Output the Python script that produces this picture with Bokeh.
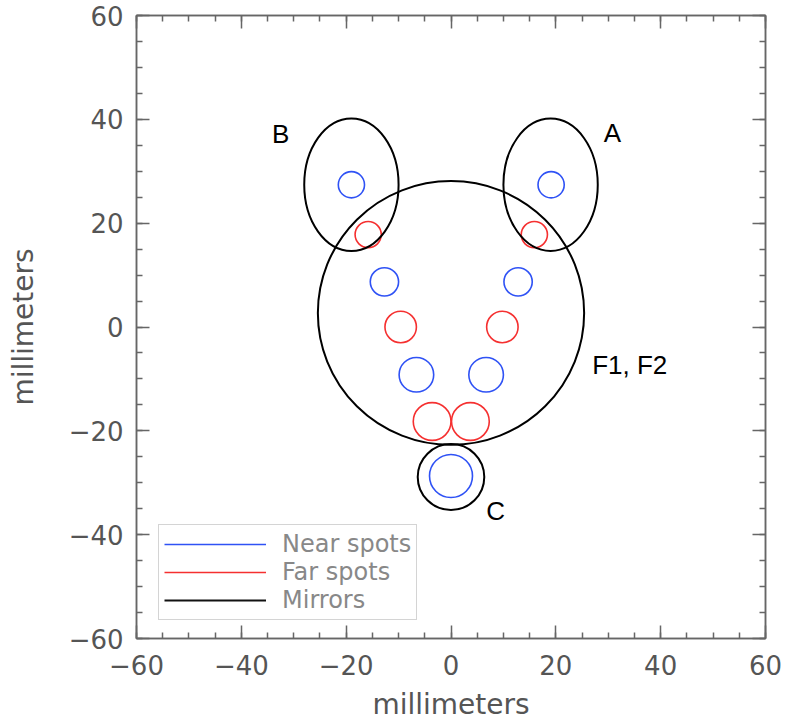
from bokeh.plotting import figure
from bokeh.models import ColumnDataSource, Range1d, LinearAxis, Legend, LegendItem, FixedTicker
from bokeh.core.properties import value
from bokeh.embed import file_html
from bokeh.resources import INLINE

# ---- data (millimeters) ----
near_x = [-19.0, 19.1, -12.7, 12.8, -6.6, 6.7, 0.0]
near_y = [27.4, 27.4, 8.7, 8.7, -9.2, -9.2, -28.7]
near_r = [2.5, 2.5, 2.7, 2.7, 3.3, 3.3, 4.1]

far_x = [-15.8, 15.9, -9.6, 9.8, -3.6, 3.7]
far_y = [17.8, 17.8, 0.0, 0.0, -18.2, -18.2]
far_r = [2.5, 2.5, 3.0, 3.0, 3.6, 3.6]

mirror_names = ["A", "B", "F1, F2", "C"]
mirror_x = [19.0, -19.0, 0.0, 0.0]
mirror_y = [27.4, 27.4, 2.7, -28.9]
mirror_w = [18.0, 18.0, 50.8, 12.7]
mirror_h = [25.5, 25.5, 50.8, 12.7]

label_x = [30.8, -32.5, 34.1, 8.5]
label_y = [37.4, 37.2, -7.3, -35.4]

legend_labels = ["Near spots", "Far spots", "Mirrors"]

ticks = [-60, -40, -20, 0, 20, 40, 60]
tick_labels = {t: (("\u2212" + str(abs(t))) if t < 0 else str(t)) for t in ticks}

BLUE = "#2f52f5"
RED = "#f53030"
TICK_FONT = "DejaVu Sans"
NAN = float("nan")

p = figure(width=788, height=727, output_backend="svg", toolbar_location=None,
           x_range=Range1d(-60, 60), y_range=Range1d(-60, 60),
           min_border_left=136, min_border_right=23, min_border_top=15, min_border_bottom=89,
           background_fill_color="white", border_fill_color="white")
p.grid.visible = False
p.outline_line_color = "#666666"
p.outline_line_width = 1.5

def style_axis(ax, show_labels):
    ax.ticker = FixedTicker(ticks=ticks, minor_ticks=list(range(-60, 61, 5)))
    ax.major_tick_in = 13
    ax.major_tick_out = 0
    ax.minor_tick_in = 6
    ax.minor_tick_out = 0
    ax.axis_line_color = "#666666"
    ax.axis_line_width = 1.5
    ax.major_tick_line_color = "#666666"
    ax.major_tick_line_width = 1.5
    ax.minor_tick_line_color = "#666666"
    ax.minor_tick_line_width = 1.5
    if show_labels:
        ax.major_label_overrides = tick_labels
        ax.major_label_text_font = TICK_FONT
        ax.major_label_text_font_size = "26px"
        ax.major_label_text_color = "#555555"
        ax.axis_label_text_font = TICK_FONT
        ax.axis_label_text_font_size = "28px"
        ax.axis_label_text_font_style = "normal"
        ax.axis_label_text_color = "#555555"
    else:
        ax.major_label_text_font_size = "0px"
        ax.major_label_text_color = None
        ax.major_label_text_alpha = 0
        ax.major_label_standoff = 0

xa = p.xaxis[0]
ya = p.yaxis[0]
style_axis(xa, True)
style_axis(ya, True)
xa.axis_label = "millimeters"
ya.axis_label = "millimeters"
xa.major_label_standoff = 16
ya.major_label_standoff = 13
xa.axis_label_standoff = 10
ya.axis_label_standoff = 26

top = LinearAxis()
right = LinearAxis()
style_axis(top, False)
style_axis(right, False)
p.add_layout(top, "above")
p.add_layout(right, "right")

near_src = ColumnDataSource(dict(x=near_x, y=near_y, r=near_r))
far_src = ColumnDataSource(dict(x=far_x, y=far_y, r=far_r))
mir_src = ColumnDataSource(dict(x=mirror_x, y=mirror_y, w=mirror_w, h=mirror_h))
lab_src = ColumnDataSource(dict(x=label_x, y=label_y, t=mirror_names))

p.circle(x="x", y="y", radius="r", source=near_src, fill_color=None,
         line_color=BLUE, line_width=1.6)
p.circle(x="x", y="y", radius="r", source=far_src, fill_color=None,
         line_color=RED, line_width=1.6)
p.ellipse(x="x", y="y", width="w", height="h", source=mir_src, fill_color=None,
          line_color="black", line_width=2)

p.text(x="x", y="y", text="t", source=lab_src, text_font=value("Liberation Sans"),
       text_font_size="26px", text_align="center", text_baseline="middle",
       text_color="black")

# line proxies for the legend (NaN data, nothing drawn in the plot)
ln = p.line(x=[NAN, NAN], y=[NAN, NAN], line_color=BLUE, line_width=1.5)
lf = p.line(x=[NAN, NAN], y=[NAN, NAN], line_color=RED, line_width=1.5)
lm = p.line(x=[NAN, NAN], y=[NAN, NAN], line_color="#111111", line_width=2)

legend = Legend(items=[LegendItem(label=legend_labels[0], renderers=[ln]),
                       LegendItem(label=legend_labels[1], renderers=[lf]),
                       LegendItem(label=legend_labels[2], renderers=[lm])],
                location=(22, 18), margin=0, padding=5,
                glyph_width=102, glyph_height=20, label_height=20,
                label_standoff=16, spacing=-12,
                label_text_font=TICK_FONT, label_text_font_size="24px",
                label_text_color="#888888",
                border_line_color="#aaaaaa", border_line_width=1,
                background_fill_color="white", background_fill_alpha=1)
p.add_layout(legend, "center")

open("out.html", "w").write(file_html(p, INLINE))
